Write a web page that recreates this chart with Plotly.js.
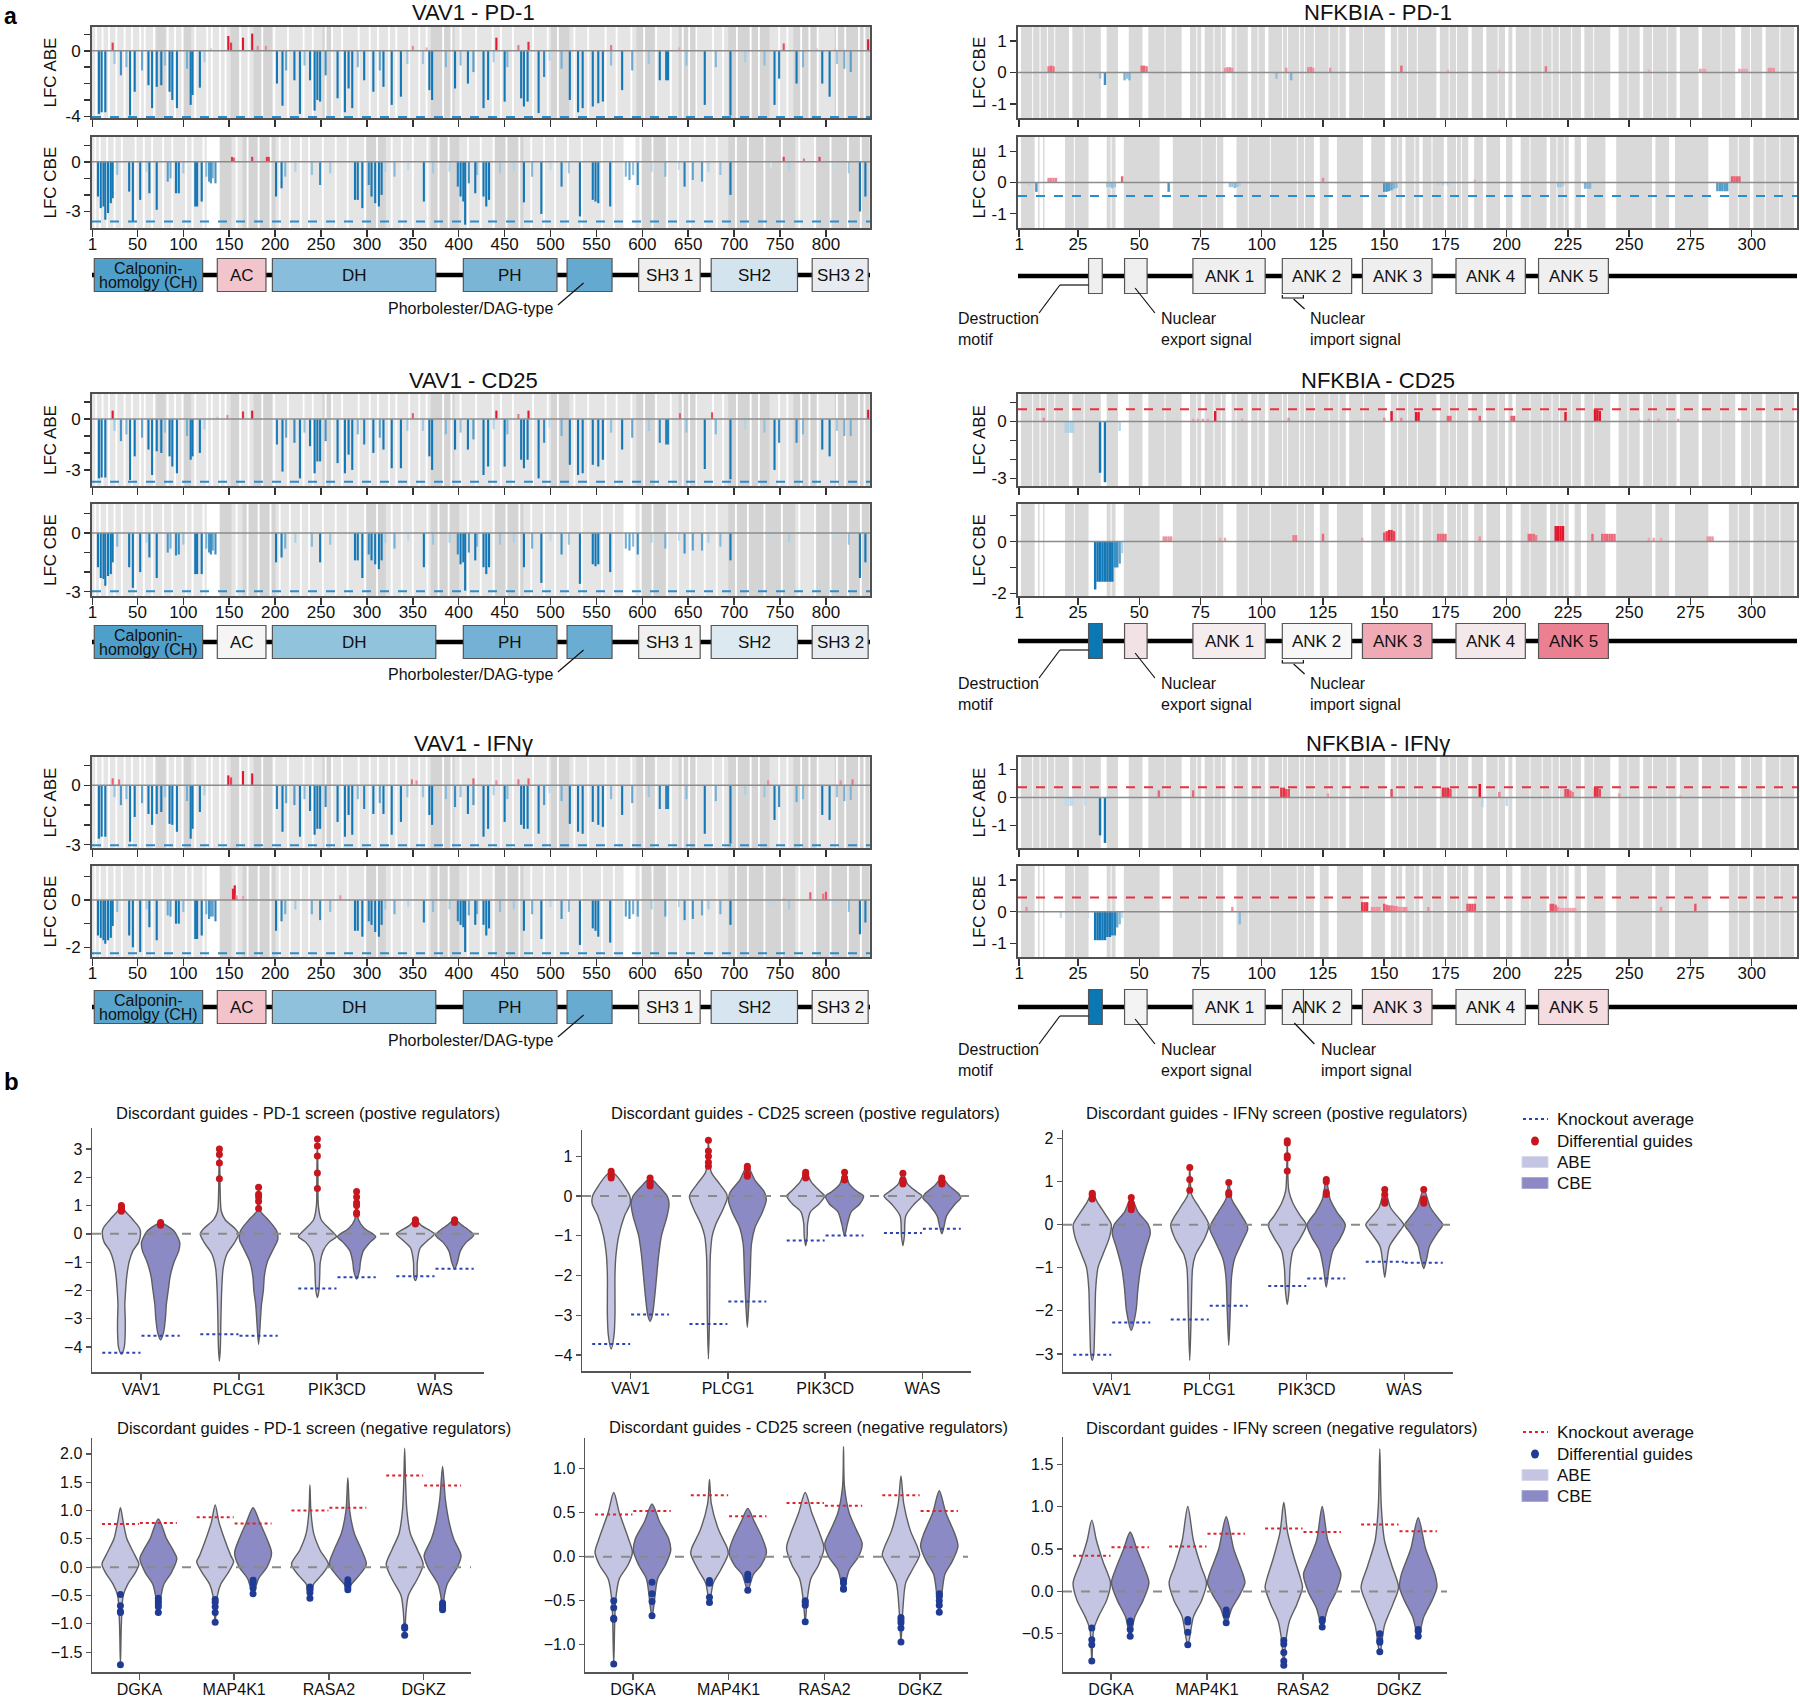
<!DOCTYPE html>
<html>
<head>
<meta charset="utf-8">
<script src="https://cdn.plot.ly/plotly-3.0.1.min.js"></script>
<style>
html,body{margin:0;padding:0;background:#fff;}
#chart{width:1800px;height:1701px;}
</style>
</head>
<body>
<div id="chart"></div>
<script>
// ======================= DATA =======================
// ---- Panel a : x ticks ----
const vav1Ticks = [1,50,100,150,200,250,300,350,400,450,500,550,600,650,700,750,800];
const nfTicks = [1,25,50,75,100,125,150,175,200,225,250,275,300];

// ---- VAV1 ABE guides (positions, aa) and LFC per screen ----
const vav1AbePos = [8,11,15,32,42,47,62,66,71,76,85,88,93,108,110,118,202,208,221,227,238,243,246,249,268,276,280,284,297,307,318,327,337,368,371,396,410,427,432,450,468,471,475,487,493,521,530,535,546,552,557,578,619,628,668,696,744,768,796,804,827];
const vav1AbePd1 = [-3.85,-3.75,-3.75,-1.5,-3.95,-2.5,-2.1,-3.5,-2.2,-2.1,-2.5,-3.0,-3.5,-3.3,-2.7,-2.25,-2.0,-3.35,-1.8,-3.85,-1.8,-3.65,-3.0,-3.1,-2.9,-3.75,-2.3,-3.5,-1.8,-2.5,-2.2,-3.3,-2.8,-2.4,-3.0,-2.3,-2.0,-3.5,-3.0,-3.1,-2.9,-3.4,-3.1,-3.8,-1.6,-3.0,-3.75,-3.5,-3.4,-3.2,-3.1,-2.4,-1.8,-1.8,-3.3,-3.95,-3.3,-2.0,-2.0,-2.8,-1.3];
const vav1AbeCd25 = [-3.5,-3.45,-3.45,-1.3,-3.6,-2.2,-1.8,-3.3,-1.9,-2.0,-2.2,-2.8,-3.2,-2.4,-2.2,-2.0,-1.5,-3.1,-1.4,-3.5,-1.6,-3.2,-2.5,-2.5,-2.6,-3.2,-2.1,-3.0,-1.5,-2.0,-1.8,-2.9,-2.9,-2.2,-3.0,-1.8,-1.8,-3.3,-2.8,-2.8,-2.4,-2.9,-2.4,-3.5,-1.4,-2.7,-3.3,-3.2,-2.7,-2.8,-2.4,-1.8,-1.4,-1.5,-2.95,-3.55,-3.0,-1.4,-1.8,-2.2,-1.0];
const vav1AbeIfng = [-2.7,-2.6,-2.6,-1.0,-2.85,-1.6,-1.45,-2.0,-1.45,-1.35,-1.95,-2.0,-2.35,-2.7,-2.2,-1.35,-1.2,-2.35,-1.0,-2.6,-1.3,-2.5,-2.2,-2.2,-1.85,-2.6,-1.5,-2.5,-1.2,-1.45,-1.45,-2.5,-1.85,-1.5,-2.0,-1.1,-1.45,-2.6,-2.2,-1.85,-2.0,-2.2,-2.2,-2.45,-1.0,-1.95,-2.35,-2.45,-1.85,-2.0,-2.1,-1.5,-1.2,-1.2,-2.45,-2.95,-1.75,-0.85,-1.5,-1.75,-0.75];
// weaker ABE guides
const vav1AbeMinorPos = [25,38,55,80,104,123,212,232,255,290,314,344,361,386,402,416,438,453,499,512,566,589,607,626,648,680,712,733,749,775,812,820];
const vav1AbeMinorPd1 = [-0.8,-1.0,-1.2,-0.9,-1.1,-0.7,-1.2,-0.9,-1.5,-1.0,-1.2,-0.8,-0.8,-1.0,-0.9,-1.3,-0.7,-1.0,-0.6,-1.1,-0.9,-1.2,-0.8,-1.8,-0.9,-1.0,-0.7,-0.9,-1.7,-1.0,-0.8,-1.1];
const vav1AbeMinorCd25 = [-0.7,-0.9,-1.1,-0.8,-1.0,-0.6,-1.1,-0.8,-1.3,-0.9,-1.1,-0.7,-0.7,-0.9,-0.8,-1.2,-0.6,-0.9,-0.5,-1.0,-0.8,-1.1,-0.7,-1.5,-0.8,-0.9,-0.6,-0.8,-1.4,-0.9,-0.7,-1.0];
const vav1AbeMinorIfng = [-0.6,-0.7,-0.9,-0.6,-0.8,-0.5,-0.9,-0.7,-1.1,-0.7,-0.9,-0.6,-0.6,-0.7,-0.6,-1.0,-0.5,-0.7,-0.4,-0.8,-0.7,-0.9,-0.6,-1.2,-0.7,-0.8,-0.5,-0.6,-1.1,-0.7,-0.6,-0.8];
// positive ABE guides
const vav1AbeRedPosPd1 = [23,130,149,152,165,175,181,190,350,365,441,465,476,566,640,754,790,810,846];
const vav1AbeRedPd1 = [0.5,0.15,0.9,0.5,0.8,1.05,0.3,0.3,0.3,0.2,0.8,0.35,0.55,0.35,0.2,0.45,0.15,0.15,0.7];
const vav1AbeRedPosCd25 = [23,137,148,165,175,350,441,465,476,641,676,846];
const vav1AbeRedCd25 = [0.5,0.15,0.25,0.45,0.5,0.35,0.5,0.3,0.5,0.35,0.4,0.55];
const vav1AbeRedPosIfng = [23,30,149,152,165,175,349,354,416,441,465,476,737,816,829];
const vav1AbeRedIfng = [0.35,0.3,0.5,0.4,0.72,0.6,0.3,0.25,0.35,0.25,0.3,0.35,0.25,0.25,0.3];

// ---- VAV1 CBE guides ----
const vav1CbePos = [7,10,13,15,18,21,23,41,45,53,63,71,83,92,95,113,115,120,130,201,207,249,287,290,295,302,305,309,313,316,362,399,402,405,407,411,418,427,430,433,471,490,512,532,546,549,552,565,595,646,665,696,837,843];
const vav1CbePd1 = [-2.1,-2.8,-2.7,-3.5,-3.1,-2.5,-2.2,-1.8,-3.6,-2.3,-1.9,-2.9,-1.2,-1.9,-1.9,-2.7,-2.7,-2.4,-1.3,-2.1,-1.6,-1.4,-2.3,-2.3,-2.8,-1.4,-2.1,-2.5,-2.7,-2.0,-2.4,-1.5,-2.1,-2.4,-3.8,-1.3,-1.9,-2.1,-2.7,-2.3,-2.45,-3.15,-1.5,-3.3,-2.3,-2.4,-2.5,-2.7,-1.4,-1.5,-1.2,-2.0,-3.0,-2.1];
const vav1CbeCd25 = [-1.75,-2.3,-2.35,-2.7,-2.2,-2.1,-1.5,-1.75,-2.8,-2.0,-1.25,-2.3,-1.0,-1.15,-1.1,-2.1,-2.1,-2.1,-1.1,-1.5,-1.25,-1.5,-1.4,-1.4,-2.3,-1.1,-1.4,-1.6,-1.85,-1.4,-1.75,-1.1,-1.6,-1.5,-2.95,-1.0,-1.4,-1.75,-2.1,-1.75,-1.75,-2.55,-1.1,-2.6,-1.6,-1.7,-1.6,-2.0,-1.1,-1.05,-0.9,-1.4,-2.3,-1.5];
const vav1CbeIfng = [-1.5,-1.6,-1.7,-1.85,-1.7,-1.6,-1.1,-1.5,-2.0,-2.2,-1.15,-1.7,-0.65,-1.0,-1.0,-1.65,-1.65,-1.5,-0.7,-1.3,-0.9,-0.85,-1.3,-1.3,-1.55,-0.9,-1.05,-1.35,-1.55,-1.05,-0.95,-0.9,-1.05,-1.15,-2.2,-0.65,-1.05,-1.05,-1.5,-1.2,-1.3,-1.65,-0.8,-1.9,-1.2,-1.3,-1.55,-1.8,-0.7,-0.85,-0.65,-1.05,-1.45,-0.95];
// weaker CBE guides
const vav1CbeMinorPos = [28,60,86,100,125,128,132,135,211,222,240,260,320,330,345,372,390,420,445,460,480,500,520,582,586,590,610,625,640,655,672,685,740,760,810,825];
const vav1CbeMinorPd1 = [-0.8,-0.6,-1.0,-0.7,-0.9,-1.2,-1.0,-1.3,-0.9,-0.6,-0.8,-0.7,-0.6,-0.9,-0.5,-0.7,-0.6,-0.8,-0.7,-0.6,-0.9,-0.5,-0.7,-0.9,-1.1,-0.8,-0.6,-0.9,-0.5,-1.1,-0.6,-0.8,-0.4,-0.6,-0.5,-0.7];
const vav1CbeMinorCd25 = [-0.7,-0.5,-0.8,-0.6,-0.8,-1.0,-0.9,-1.1,-0.8,-0.5,-0.7,-0.6,-0.5,-0.8,-0.4,-0.6,-0.5,-0.7,-0.6,-0.5,-0.8,-0.4,-0.6,-0.8,-0.9,-0.7,-0.5,-0.8,-0.4,-0.9,-0.5,-0.7,-0.4,-0.5,-0.4,-0.6];
const vav1CbeMinorIfng = [-0.5,-0.4,-0.7,-0.5,-0.6,-0.8,-0.7,-0.9,-0.6,-0.4,-0.6,-0.5,-0.4,-0.6,-0.3,-0.5,-0.4,-0.6,-0.5,-0.4,-0.6,-0.3,-0.5,-0.7,-0.8,-0.6,-0.4,-0.7,-0.3,-0.8,-0.4,-0.6,-0.3,-0.4,-0.3,-0.5];
const vav1CbeRedPosPd1 = [153,155,175,191,193,754,776,793];
const vav1CbeRedPd1 = [0.3,0.25,0.3,0.3,0.3,0.3,0.2,0.3];
const vav1CbeRedPosCd25 = [];
const vav1CbeRedCd25 = [];
const vav1CbeRedPosIfng = [154,156,158,165,271,754,783,797,800];
const vav1CbeRedIfng = [0.48,0.62,0.2,0.17,0.2,0.12,0.33,0.27,0.35];

// ---- VAV1 guide coverage (background) ----
const vav1AbeGaps = [5,12,19,27,36,44,53,58,68,83,91,99,113,126,131,140,146,162,171,186,199,214,231,241,255,262,273,291,303,312,324,332,346,357,365,383,392,402,419,437,446,459,481,497,508,526,541,560,572,588,602,615,631,644,651,659,677,688,703,718,727,749,758,773,782,791,812,821,836,842];
const vav1AbeDark = [[71,80],[101,108],[152,160],[177,196],[252,262],[370,395],[501,520],[594,613],[640,660],[694,738],[765,790],[810,847]];
const vav1CbeGaps = [4,9,17,25,33,48,57,66,78,88,103,110,122,158,170,182,195,205,216,228,237,252,266,279,298,311,327,338,350,366,378,389,410,424,438,452,466,479,493,505,519,534,556,569,581,598,611,627,639,652,668,681,702,715,733,752,771,788,805,824,838];
const vav1CbeDark = [[140,152],[165,200],[300,320],[370,400],[440,470],[600,625],[694,766],[790,847]];
const vav1CbeWhite = [[126,139],[580,592]];

// ---- VAV1 thresholds (knockout average, dashed) ----
const vav1AbeThr = [-4.04,-3.7,-3.03];
const vav1CbeThr = [-3.6,-2.98,-2.25];

// ---- NFKBIA guides ----
const nfAbePosPd1 = [13,14,15,34,36,44,45,46,51,52,53,85,86,87,88,106,110,112,119,120,121,128,157,176,197,216,258,279,280,281,295,296,297,298,307,308,309];
const nfAbePd1 = [0.2,0.22,0.2,-0.2,-0.4,-0.25,-0.2,-0.25,0.22,0.22,0.2,0.15,0.17,0.17,0.15,-0.2,0.15,-0.25,0.17,0.18,0.15,0.15,0.22,0.1,0.1,0.2,0.1,0.12,0.12,0.12,0.12,0.12,0.12,0.12,0.15,0.15,0.15];
const nfCbePosPd1 = [5,8,13,14,15,16,37,38,39,40,43,62,87,88,89,90,91,125,150,151,152,153,154,155,172,174,176,187,221,222,223,232,233,234,286,287,288,289,290,292,293,294,295];
const nfCbePd1 = [-0.1,-0.3,0.15,0.15,0.15,0.15,-0.15,-0.15,-0.18,-0.15,0.2,-0.3,-0.15,-0.15,-0.18,-0.15,-0.12,0.15,-0.3,-0.3,-0.28,-0.25,-0.2,-0.18,-0.1,-0.1,-0.1,0.1,-0.15,-0.15,-0.12,-0.2,-0.2,-0.2,-0.28,-0.28,-0.28,-0.28,-0.28,0.2,0.2,0.2,0.2];
const nfAbePosCd25 = [11,20,21,22,23,34,36,42,72,74,76,78,81,92,111,150,153,157,163,164,176,177,189,202,203,224,236,237,238,254,258,262,270];
const nfAbeCd25 = [0.2,-0.6,-0.6,-0.6,-0.6,-2.7,-3.2,-0.5,0.15,0.15,0.15,0.15,0.55,0.15,0.2,0.2,0.55,0.2,0.5,0.5,0.3,0.3,0.3,0.3,0.3,0.5,0.65,0.65,0.55,0.12,0.15,0.15,0.15];
const nfCbePosCd25 = [32,33,34,35,36,37,38,39,40,41,42,43,60,61,62,63,83,85,113,114,125,141,150,151,152,153,154,172,173,174,175,189,209,210,211,212,220,221,222,223,235,239,240,241,242,243,244,258,260,263,282,283,284];
const nfCbeCd25 = [-1.85,-1.55,-1.55,-1.55,-1.55,-1.55,-1.55,-1.55,-1.0,-1.0,-0.85,-0.45,0.2,0.2,0.2,0.2,0.15,0.15,0.25,0.25,0.3,0.15,0.35,0.4,0.45,0.45,0.4,0.3,0.3,0.3,0.3,0.2,0.3,0.3,0.3,0.25,0.6,0.6,0.6,0.6,0.3,0.3,0.3,0.3,0.3,0.3,0.3,0.15,0.15,0.15,0.2,0.2,0.2];
const nfAbePosIfng = [20,21,22,23,28,34,36,58,72,108,109,110,111,127,153,174,175,176,177,189,190,197,200,224,225,226,227,236,237,238,246,271];
const nfAbeIfng = [-0.3,-0.3,-0.3,-0.3,-0.3,-1.35,-1.62,0.25,0.25,0.35,0.35,0.3,0.3,0.15,0.3,0.35,0.35,0.35,0.3,0.48,-0.35,0.2,-0.3,0.3,0.3,0.25,0.2,0.35,0.35,0.3,0.15,0.1];
const nfCbePosIfng = [4,18,29,32,33,34,35,36,37,38,39,40,41,42,43,88,91,141,142,143,145,146,147,148,150,151,152,153,154,155,156,157,158,159,168,184,185,186,187,218,219,220,221,222,223,224,225,226,227,228,263,277];
const nfCbeIfng = [0.15,-0.2,-0.2,-0.9,-0.9,-0.9,-0.9,-0.9,-0.8,-0.8,-0.75,-0.75,-0.5,-0.4,-0.2,0.15,-0.4,0.3,0.3,0.3,0.15,0.15,0.15,0.15,0.25,0.22,0.2,0.2,0.18,0.18,0.15,0.15,0.15,0.15,0.15,0.25,0.25,0.25,0.25,0.25,0.25,0.22,0.15,0.12,0.12,0.12,0.12,0.12,0.12,0.12,0.15,0.25];

// ---- NFKBIA guide coverage (background) ----
const nfAbeCov = [[2,6],[7,9],[10,12],[13,15],[16,21],[23,27],[28,34],[37,41],[46,51],[54,60],[61,67],[71,73],[74,75],[77,80],[81,83],[84,85],[88,89],[90,94],[96,98],[99,101],[103,108],[109,110],[111,115],[116,117],[118,121],[122,127],[128,131],[132,134],[136,141],[142,150],[153,155],[156,159],[160,163],[164,171],[173,176],[177,179],[180,184],[186,190],[192,196],[197,199],[201,202],[204,209],[210,214],[215,218],[219,221],[222,226],[227,230],[232,235],[236,242],[246,249],[250,254],[256,259],[260,265],[266,269],[271,278],[280,287],[288,293],[296,299],[300,304],[306,311],[312,317]];
const nfCbeCov = [[2,7],[9,9],[11,11],[20,23],[24,29],[37,38],[39,40],[44,58],[64,75],[76,81],[82,84],[90,94],[95,103],[104,114],[115,117],[118,121],[124,127],[131,141],[145,150],[153,155],[156,157],[159,162],[163,164],[166,169],[170,174],[176,179],[180,181],[182,184],[187,190],[192,197],[200,202],[206,209],[210,216],[218,220],[221,223],[224,225],[228,230],[233,240],[245,259],[261,266],[269,282],[291,294],[295,299],[301,305],[306,311],[312,317]];
const nfAbeThr = [null,0.65,0.36];
const nfCbeThr = [-0.43,null,0.45];

// ---- Domain annotations ----
const vav1DomStart = [3,137,197,405,518,596,675,785];
const vav1DomEnd = [121,190,375,507,567,663,769,846];
const vav1DomLabel = ['','AC','DH','PH','','SH3 1','SH2','SH3 2'];
const nfDomStart = [29.3,44,71.9,108.4,141.1,179.3,213];
const nfDomEnd = [34.9,53.2,101.4,136.7,169.5,207.6,241.5];
const nfDomLabel = ['','','ANK 1','ANK 2','ANK 3','ANK 4','ANK 5'];
const screens = ['PD-1','CD25','IFNγ'];

// ---- Panel b : violins (y knots ascending, relative half-width) ----
const genesPos = ['VAV1','PLCG1','PIK3CD','WAS'];
const genesNeg = ['DGKA','MAP4K1','RASA2','DGKZ'];
// PD-1 positive regulators
const b1AbeY = [[-4.25,-4.0,-3.5,-3.0,-2.5,-2.0,-1.5,-1.0,-0.6,-0.3,0.0,0.2,0.5,0.8,1.0],[-4.5,-4.0,-3.0,-2.0,-1.2,-0.7,-0.3,0.0,0.2,0.5,0.8,1.5,2.0,3.0],[-2.25,-2.0,-1.5,-1.0,-0.6,-0.3,-0.1,0.0,0.2,0.5,1.0,2.0,3.35],[-1.65,-1.5,-1.0,-0.5,-0.2,0.0,0.1,0.3,0.5]];
const b1AbeW = [[0,0.15,0.2,0.2,0.18,0.22,0.28,0.4,0.6,0.9,1.0,0.95,0.6,0.2,0],[0,0.05,0.08,0.12,0.2,0.4,0.8,1.0,0.8,0.3,0.1,0.04,0.03,0],[0,0.08,0.12,0.15,0.3,0.6,1.0,0.9,0.6,0.2,0.05,0.03,0],[0,0.08,0.1,0.25,0.7,1.0,0.8,0.3,0]];
const b1CbeY = [[-3.75,-3.5,-3.0,-2.5,-2.0,-1.5,-1.0,-0.6,-0.3,0.1,0.3,0.4],[-3.9,-3.0,-2.5,-2.0,-1.5,-1.0,-0.5,-0.2,0.1,0.5,0.8,1.2,1.65],[-1.6,-1.3,-1.0,-0.6,-0.3,-0.1,0.0,0.2,0.5,1.0,1.5],[-1.25,-1.0,-0.6,-0.3,-0.05,0.1,0.3,0.5]];
const b1CbeW = [[0,0.15,0.25,0.3,0.4,0.5,0.7,0.95,1.0,0.7,0.3,0],[0,0.1,0.15,0.25,0.3,0.45,0.8,1.0,0.95,0.5,0.1,0.04,0],[0,0.15,0.2,0.35,0.7,1.0,0.85,0.4,0.1,0.04,0],[0,0.15,0.3,0.6,1.0,0.8,0.4,0]];
const b1AbeDots = [[0.8,0.85,0.9,0.95,1.0],[1.95,2.5,2.8,3.0],[1.6,2.15,2.75,3.1,3.35],[0.35,0.4,0.45,0.5]];
const b1CbeDots = [[0.3,0.35,0.4],[0.9,1.15,1.3,1.4,1.65],[0.7,0.75,1.0,1.1,1.3,1.5],[0.4,0.45,0.5]];
const b1AbeKO = [-4.2,-3.55,-1.93,-1.5];
const b1CbeKO = [-3.6,-3.6,-1.53,-1.23];
// CD25 positive regulators
const b2AbeY = [[-3.85,-3.5,-3.0,-2.5,-2.0,-1.5,-1.0,-0.5,-0.2,0.0,0.2,0.5,0.62],[-4.1,-3.0,-2.0,-1.5,-1.0,-0.7,-0.3,0.0,0.3,0.6,1.0,1.4],[-1.25,-1.0,-0.7,-0.4,-0.2,0.0,0.1,0.35,0.6],[-1.25,-1.0,-0.5,-0.2,0.0,0.1,0.3,0.57]];
const b2AbeW = [[0,0.15,0.2,0.2,0.2,0.25,0.4,0.7,1.0,0.98,0.75,0.3,0],[0,0.06,0.08,0.1,0.2,0.4,0.8,1.0,0.6,0.15,0.04,0],[0,0.08,0.1,0.25,0.7,1.0,0.8,0.3,0],[0,0.08,0.15,0.6,1.0,0.75,0.25,0]];
const b2CbeY = [[-3.15,-3.0,-2.5,-2.0,-1.5,-1.0,-0.5,-0.2,0.0,0.3,0.45],[-3.3,-2.7,-2.0,-1.2,-0.8,-0.4,-0.1,0.1,0.4,0.75],[-1.0,-0.7,-0.4,-0.2,0.0,0.1,0.3,0.62],[-0.95,-0.8,-0.5,-0.2,-0.05,0.05,0.25,0.45]];
const b2CbeW = [[0,0.12,0.25,0.35,0.45,0.6,0.9,1.0,0.9,0.35,0],[0,0.08,0.15,0.22,0.4,0.8,1.0,0.9,0.4,0],[0,0.15,0.35,0.8,1.0,0.7,0.25,0],[0,0.1,0.25,0.7,1.0,0.9,0.4,0]];
const b2AbeDots = [[0.45,0.5,0.55,0.62],[0.75,0.85,1.0,1.13,1.4],[0.45,0.5,0.55,0.6],[0.3,0.35,0.4,0.57]];
const b2CbeDots = [[0.25,0.3,0.35,0.45],[0.5,0.55,0.7,0.75],[0.4,0.45,0.6],[0.3,0.35,0.4,0.45]];
const b2AbeKO = [-3.72,-3.22,-1.12,-0.93];
const b2CbeKO = [-2.98,-2.65,-0.99,-0.82];
// IFNγ positive regulators
const b3AbeY = [[-3.15,-3.0,-2.5,-2.0,-1.5,-1.0,-0.7,-0.3,0.0,0.2,0.5,0.73],[-3.15,-2.0,-1.0,-0.7,-0.3,0.0,0.4,0.7,1.33],[-1.85,-1.5,-1.0,-0.6,-0.3,0.0,0.2,0.5,0.8,1.95],[-1.22,-0.9,-0.5,-0.2,0.0,0.1,0.4,0.82]];
const b3AbeW = [[0,0.08,0.12,0.15,0.18,0.3,0.55,0.9,1.0,0.75,0.3,0],[0,0.08,0.15,0.3,0.8,1.0,0.5,0.1,0],[0,0.1,0.15,0.3,0.7,1.0,0.7,0.3,0.08,0],[0,0.1,0.25,0.7,1.0,0.85,0.3,0]];
const b3CbeY = [[-2.45,-2.0,-1.5,-1.0,-0.5,-0.2,0.0,0.3,0.63],[-2.8,-2.0,-1.2,-0.8,-0.4,-0.1,0.0,0.3,0.6,0.98],[-1.45,-1.0,-0.6,-0.3,0.0,0.3,0.6,1.05],[-1.02,-0.8,-0.5,-0.2,0.0,0.1,0.4,0.82]];
const b3CbeW = [[0,0.25,0.35,0.5,0.8,1.0,0.9,0.35,0],[0,0.08,0.15,0.3,0.7,1.0,0.95,0.55,0.15,0],[0,0.15,0.35,0.75,1.0,0.55,0.2,0],[0,0.15,0.3,0.7,1.0,0.85,0.35,0]];
const b3AbeDots = [[0.6,0.65,0.7,0.73],[0.8,1.05,1.33],[1.25,1.55,1.6,1.9,1.95],[0.5,0.55,0.7,0.82]];
const b3CbeDots = [[0.35,0.4,0.45,0.5,0.63],[0.7,0.75,0.98],[0.7,0.75,1.0,1.05],[0.5,0.55,0.6,0.82]];
const b3AbeKO = [-3.02,-2.2,-1.42,-0.86];
const b3CbeKO = [-2.27,-1.88,-1.25,-0.88];
// PD-1 negative regulators
const b4AbeY = [[-1.72,-1.0,-0.5,-0.3,-0.1,0.05,0.2,0.5,0.8,1.05],[-0.97,-0.5,-0.3,-0.1,0.1,0.2,0.5,0.8,1.1],[-0.55,-0.3,-0.15,0.05,0.3,0.6,1.0,1.45],[-1.2,-0.8,-0.5,-0.2,0.05,0.3,0.6,1.0,1.5,2.1]];
const b4AbeW = [[0,0.05,0.15,0.4,0.8,1.0,0.8,0.35,0.15,0],[0,0.12,0.3,0.7,1.0,0.85,0.5,0.2,0],[0,0.2,0.6,1.0,0.55,0.2,0.05,0],[0,0.07,0.2,0.7,1.0,0.7,0.3,0.12,0.05,0]];
const b4CbeY = [[-0.8,-0.5,-0.3,-0.1,0.15,0.3,0.5,0.85],[-0.47,-0.2,0.0,0.25,0.5,0.8,1.05],[-0.4,-0.3,-0.15,0.05,0.3,0.6,1.0,1.58],[-0.77,-0.5,-0.3,0.0,0.2,0.5,0.8,1.2,1.78]];
const b4CbeW = [[0,0.15,0.3,0.7,1.0,0.8,0.45,0],[0,0.3,0.75,1.0,0.75,0.35,0],[0,0.2,0.6,1.0,0.75,0.35,0.1,0],[0,0.1,0.25,0.8,1.0,0.6,0.35,0.15,0]];
const b4AbeDots = [[-0.48,-0.68,-0.78,-0.8,-1.72],[-0.57,-0.62,-0.7,-0.8,-0.97],[-0.35,-0.38,-0.4,-0.45,-0.55],[-1.05,-1.08,-1.2]];
const b4CbeDots = [[-0.55,-0.6,-0.65,-0.7,-0.8],[-0.23,-0.28,-0.37,-0.47],[-0.22,-0.27,-0.3,-0.35,-0.4],[-0.63,-0.67,-0.72,-0.75]];
const b4AbeKO = [0.76,0.88,1.0,1.62];
const b4CbeKO = [0.78,0.77,1.05,1.44];
// CD25 negative regulators
const b5AbeY = [[-1.22,-0.5,-0.25,-0.1,0.05,0.2,0.5,0.73],[-0.52,-0.3,-0.15,0.03,0.1,0.3,0.6,0.88],[-0.74,-0.5,-0.25,-0.1,0.1,0.25,0.5,0.73],[-0.97,-0.6,-0.3,-0.15,0.02,0.1,0.3,0.6,0.92]];
const b5AbeW = [[0,0.1,0.3,0.75,1.0,0.8,0.3,0],[0,0.2,0.6,1.0,0.95,0.5,0.1,0],[0,0.1,0.3,0.7,1.0,0.8,0.35,0],[0,0.1,0.25,0.6,1.0,0.9,0.5,0.15,0]];
const b5CbeY = [[-0.68,-0.25,-0.1,0.07,0.2,0.4,0.6],[-0.38,-0.2,-0.1,0.05,0.2,0.4,0.55],[-0.37,-0.15,0.0,0.15,0.3,0.5,0.8,1.25],[-0.63,-0.5,-0.2,-0.05,0.12,0.25,0.5,0.75]];
const b5CbeW = [[0,0.3,0.7,1.0,0.9,0.4,0],[0,0.3,0.7,1.0,0.8,0.35,0],[0,0.3,0.8,1.0,0.7,0.3,0.05,0],[0,0.1,0.3,0.7,1.0,0.85,0.35,0]];
const b5AbeDots = [[-0.5,-0.58,-0.7,-0.71,-1.22],[-0.27,-0.3,-0.46,-0.52],[-0.5,-0.52,-0.55,-0.74],[-0.69,-0.72,-0.75,-0.81,-0.97]];
const b5CbeDots = [[-0.29,-0.42,-0.51,-0.67],[-0.2,-0.23,-0.26,-0.38],[-0.27,-0.3,-0.36,-0.37],[-0.42,-0.45,-0.5,-0.55,-0.63]];
const b5AbeKO = [0.48,0.7,0.61,0.7];
const b5CbeKO = [0.52,0.46,0.58,0.52];
// IFNγ negative regulators
const b6AbeY = [[-0.82,-0.45,-0.3,-0.1,0.1,0.35,0.6,0.84],[-0.63,-0.3,-0.1,0.1,0.3,0.6,1.0],[-0.87,-0.6,-0.35,-0.15,0.05,0.15,0.4,0.7,1.05],[-0.73,-0.4,-0.15,0.05,0.3,0.6,1.0,1.68]];
const b6AbeW = [[0,0.1,0.35,0.8,1.0,0.6,0.25,0],[0,0.3,0.75,1.0,0.7,0.3,0],[0,0.1,0.3,0.7,1.0,0.9,0.55,0.2,0],[0,0.25,0.7,1.0,0.65,0.25,0.08,0]];
const b6CbeY = [[-0.53,-0.3,-0.1,0.1,0.25,0.5,0.7],[-0.37,-0.2,-0.05,0.1,0.2,0.5,0.88],[-0.42,-0.2,0.0,0.2,0.35,0.6,1.0],[-0.53,-0.3,-0.1,0.05,0.2,0.5,0.87]];
const b6CbeW = [[0,0.25,0.7,1.0,0.8,0.35,0],[0,0.3,0.7,1.0,0.9,0.4,0],[0,0.3,0.75,1.0,0.75,0.3,0],[0,0.3,0.75,1.0,0.9,0.4,0]];
const b6AbeDots = [[-0.43,-0.57,-0.63,-0.82],[-0.33,-0.36,-0.48,-0.63],[-0.58,-0.62,-0.72,-0.82,-0.87],[-0.5,-0.58,-0.6,-0.71]];
const b6CbeDots = [[-0.35,-0.37,-0.45,-0.53],[-0.22,-0.25,-0.28,-0.37],[-0.33,-0.35,-0.42],[-0.45,-0.47,-0.53]];
const b6AbeKO = [0.42,0.53,0.74,0.79];
const b6CbeKO = [0.52,0.68,0.7,0.71];

// ======================= STYLE / BUILD =======================
const W = 1800, H = 1701;
const px = v => v / W;
const py = v => 1 - v / H;
const FONT = '"Liberation Sans", Arial, Helvetica, sans-serif';
const traces = [], shapes = [], annotations = [];
const layout = {
  width: W, height: H, margin: {l:0, r:0, t:0, b:0, pad:0},
  paper_bgcolor: '#ffffff', plot_bgcolor: 'rgba(0,0,0,0)',
  showlegend: false, barmode: 'overlay', hovermode: false,
  font: {family: FONT, size: 16, color: '#1a1a1a'},
  shapes: shapes, annotations: annotations
};

function hex2rgb(h){return [parseInt(h.slice(1,3),16),parseInt(h.slice(3,5),16),parseInt(h.slice(5,7),16)];}
function mix(a,b,t){const A=hex2rgb(a),B=hex2rgb(b);return 'rgb('+A.map((v,i)=>Math.round(v+(B[i]-v)*t)).join(',')+')';}
const BLUE_L='#d2e6f2', BLUE_D='#1477b6', RED_L='#f7d0d6', RED_D='#e4162e';
function colorFor(v, cs){
  if (v < 0){const t=Math.max(0,Math.min(1,(-v-cs[0])/(cs[1]-cs[0])));return mix(BLUE_L,BLUE_D,t);}
  const t=Math.max(0,Math.min(1,(v-cs[2])/(cs[3]-cs[2])));return mix(RED_L,RED_D,t);
}
const LIGHT_GRAY='#e5e5e5', DARK_GRAY='#d4d4d4', NF_GRAY='#d9d9d9';
const BLUE_DASH='#2a8dcc', RED_DASH='#e8303f';

function addCov(n, intervals, color, yr, pad){
  if(!intervals.length) return;
  traces.push({type:'bar', xaxis:'x'+n, yaxis:'y'+n,
    x: intervals.map(d=>(d[0]+d[1])/2), y: intervals.map(()=>yr[1]-yr[0]), base: yr[0],
    width: intervals.map(d=>d[1]-d[0]+2*pad), marker:{color:color, line:{width:0}},
    hoverinfo:'skip', showlegend:false});
}
function addGaps(n, positions, w, yr){
  traces.push({type:'bar', xaxis:'x'+n, yaxis:'y'+n,
    x: positions, y: positions.map(()=>yr[1]-yr[0]), base: yr[0], width: w,
    marker:{color:'#ffffff', line:{width:0}}, hoverinfo:'skip', showlegend:false});
}
function addBars(n, pos, vals, cs, w){
  if(!pos.length) return;
  traces.push({type:'bar', xaxis:'x'+n, yaxis:'y'+n, x:pos, y:vals, width:w,
    marker:{color: vals.map(v=>colorFor(v,cs)), line:{width:0}}, hoverinfo:'skip', showlegend:false});
}

// ---- Panel a geometry ----
const VX=[92,870], NX=[1018,1797];
const rowsY=[[27,118,137,228],[394,486,504,596],[757,848,866,957]];
const vav1AbeYr=[[-4.1,1.45],[-3.95,1.48],[-3.17,1.43]];
const vav1CbeYr=[[-4.0,1.5],[-3.22,1.48],[-2.41,1.44]];
const nfAbeYr=[[-1.45,1.45],[-3.4,1.45],[-1.8,1.44]];
const nfCbeYr=[[-1.46,1.46],[-2.1,1.45],[-1.43,1.44]];
const vav1AbeYt=[[1,0,-1,-2,-3,-4],[1,0,-1,-2,-3],[1,0,-1,-2,-3]];
const vav1AbeYl=[['','0','','','','-4'],['','0','','','-3'],['','0','','','-3']];
const vav1CbeYt=[[1,0,-1,-2,-3],[1,0,-1,-2,-3],[1,0,-1,-2]];
const vav1CbeYl=[['','0','','','-3'],['','0','','','-3'],['','0','','-2']];
const nfAbeYt=[[1,0,-1],[1,0,-1,-2,-3],[1,0,-1]];
const nfAbeYl=[['1','0','-1'],['','0','','','-3'],['1','0','-1']];
const nfCbeYt=[[1,0,-1],[1,0,-1,-2],[1,0,-1]];
const nfCbeYl=[['1','0','-1'],['','0','','-2'],['1','0','-1']];
const nfAbeLabels=['LFC CBE','LFC ABE','LFC ABE'];
const vav1AbeCs=[[0.4,1.8,0.1,0.6],[0.4,1.6,0.1,0.5],[0.3,1.3,0.1,0.5]];
const vav1CbeCs=[[0.4,1.6,0.05,0.35],[0.3,1.3,0.05,0.35],[0.2,1.0,0.05,0.5]];
const nfAbeCs=[[0.05,0.5,0.05,0.35],[0.3,2.0,0.05,0.45],[0.2,1.2,0.05,0.4]];
const nfCbeCs=[[0.05,0.4,0.05,0.3],[0.3,1.2,0.05,0.5],[0.15,0.8,0.05,0.35]];

const vav1AbeVals=[vav1AbePd1,vav1AbeCd25,vav1AbeIfng];
const vav1AbeMinorVals=[vav1AbeMinorPd1,vav1AbeMinorCd25,vav1AbeMinorIfng];
const vav1AbeRedPos=[vav1AbeRedPosPd1,vav1AbeRedPosCd25,vav1AbeRedPosIfng];
const vav1AbeRedVals=[vav1AbeRedPd1,vav1AbeRedCd25,vav1AbeRedIfng];
const vav1CbeVals=[vav1CbePd1,vav1CbeCd25,vav1CbeIfng];
const vav1CbeMinorVals=[vav1CbeMinorPd1,vav1CbeMinorCd25,vav1CbeMinorIfng];
const vav1CbeRedPos=[vav1CbeRedPosPd1,vav1CbeRedPosCd25,vav1CbeRedPosIfng];
const vav1CbeRedVals=[vav1CbeRedPd1,vav1CbeRedCd25,vav1CbeRedIfng];
const nfAbePos=[nfAbePosPd1,nfAbePosCd25,nfAbePosIfng];
const nfAbeVals=[nfAbePd1,nfAbeCd25,nfAbeIfng];
const nfCbePos=[nfCbePosPd1,nfCbePosCd25,nfCbePosIfng];
const nfCbeVals=[nfCbePd1,nfCbeCd25,nfCbeIfng];

function setupAxes(n, xd, yd, xr, xt, showX, yr, yt, yl){
  layout['xaxis'+n]={domain:[px(xd[0]),px(xd[1])], anchor:'y'+n, range:xr, tickmode:'array', tickvals:xt, ticktext:xt.map(String),
    showticklabels:showX, ticks:'outside', ticklen:7, tickwidth:1.5, tickcolor:'#333', ticklabelstandoff:-7,
    showline:true, mirror:true, linecolor:'#505050', linewidth:2, showgrid:false, zeroline:false,
    tickfont:{size:17, color:'#111'}, fixedrange:true};
  layout['yaxis'+n]={domain:[py(yd[1]),py(yd[0])], anchor:'x'+n, range:yr, tickmode:'array', tickvals:yt, ticktext:yl,
    ticks:'outside', ticklen:6, tickwidth:1.5, tickcolor:'#333',
    showline:true, mirror:true, linecolor:'#505050', linewidth:2, showgrid:false, zeroline:false,
    tickfont:{size:17, color:'#111'}, fixedrange:true};
}
function hLine(n, y, color, dash, width){
  shapes.push({type:'line', xref:'x'+n+' domain', yref:'y'+n, x0:0, x1:1, y0:y, y1:y,
    line:{color:color, width:width, dash:dash}, layer:'above'});
}
function yTitle(text, xPix, yd){
  annotations.push({xref:'paper', yref:'paper', x:px(xPix), y:py((yd[0]+yd[1])/2), text:text,
    textangle:-90, showarrow:false, xanchor:'center', yanchor:'middle', font:{size:17, color:'#111'}});
}

for(let r=0;r<3;r++){
  const ry=rowsY[r];
  // ---- VAV1 ABE ----
  let n=2*r+1, yr=vav1AbeYr[r];
  setupAxes(n, VX, [ry[0],ry[1]], [0.5,848], vav1Ticks, false, yr, vav1AbeYt[r], vav1AbeYl[r]);
  addCov(n, [[1,847]], LIGHT_GRAY, yr, 0.5);
  addCov(n, vav1AbeDark, DARK_GRAY, yr, 0.5);
  addGaps(n, vav1AbeGaps, 2, yr);
  addBars(n, vav1AbeMinorPos, vav1AbeMinorVals[r], vav1AbeCs[r], 2.3);
  addBars(n, vav1AbePos, vav1AbeVals[r], vav1AbeCs[r], 2.3);
  addBars(n, vav1AbeRedPos[r], vav1AbeRedVals[r], vav1AbeCs[r], 2.3);
  hLine(n, 0, '#8c8c8c', 'solid', 1.5);
  hLine(n, vav1AbeThr[r], BLUE_DASH, 'dash', 2);
  yTitle('LFC ABE', 50, [ry[0],ry[1]]);
  // ---- VAV1 CBE ----
  n=2*r+2; yr=vav1CbeYr[r];
  setupAxes(n, VX, [ry[2],ry[3]], [0.5,848], vav1Ticks, true, yr, vav1CbeYt[r], vav1CbeYl[r]);
  addCov(n, [[1,847]], LIGHT_GRAY, yr, 0.5);
  addCov(n, vav1CbeDark, DARK_GRAY, yr, 0.5);
  addCov(n, vav1CbeWhite, '#ffffff', yr, 0.5);
  addGaps(n, vav1CbeGaps, 2, yr);
  addBars(n, vav1CbeMinorPos, vav1CbeMinorVals[r], vav1CbeCs[r], 2.3);
  addBars(n, vav1CbePos, vav1CbeVals[r], vav1CbeCs[r], 2.3);
  addBars(n, vav1CbeRedPos[r], vav1CbeRedVals[r], vav1CbeCs[r], 2.3);
  hLine(n, 0, '#8c8c8c', 'solid', 1.5);
  hLine(n, vav1CbeThr[r], BLUE_DASH, 'dash', 2);
  yTitle('LFC CBE', 50, [ry[2],ry[3]]);
  // ---- NFKBIA ABE ----
  n=7+2*r; yr=nfAbeYr[r];
  setupAxes(n, NX, [ry[0],ry[1]], [0.5,318.5], nfTicks, false, yr, nfAbeYt[r], nfAbeYl[r]);
  addCov(n, nfAbeCov, NF_GRAY, yr, 0.3);
  addBars(n, nfAbePos[r], nfAbeVals[r], nfAbeCs[r], 1.0);
  hLine(n, 0, '#8c8c8c', 'solid', 1.5);
  if(nfAbeThr[r]!==null) hLine(n, nfAbeThr[r], nfAbeThr[r]>0?RED_DASH:BLUE_DASH, 'dash', 2);
  yTitle(nfAbeLabels[r], 979, [ry[0],ry[1]]);
  // ---- NFKBIA CBE ----
  n=8+2*r; yr=nfCbeYr[r];
  setupAxes(n, NX, [ry[2],ry[3]], [0.5,318.5], nfTicks, true, yr, nfCbeYt[r], nfCbeYl[r]);
  addCov(n, nfCbeCov, NF_GRAY, yr, 0.3);
  addBars(n, nfCbePos[r], nfCbeVals[r], nfCbeCs[r], 1.0);
  hLine(n, 0, '#8c8c8c', 'solid', 1.5);
  if(nfCbeThr[r]!==null) hLine(n, nfCbeThr[r], nfCbeThr[r]>0?RED_DASH:BLUE_DASH, 'dash', 2);
  yTitle('LFC CBE', 979, [ry[2],ry[3]]);
}

// ---- Titles for panel a ----
const aTitleY=[12,380,743];
for(let r=0;r<3;r++){
  annotations.push({xref:'paper',yref:'paper',x:px(474),y:py(aTitleY[r]),text:'VAV1 - '+screens[r],showarrow:false,xanchor:'center',yanchor:'middle',font:{size:22,color:'#111'}});
  annotations.push({xref:'paper',yref:'paper',x:px(1378),y:py(aTitleY[r]),text:'NFKBIA - '+screens[r],showarrow:false,xanchor:'center',yanchor:'middle',font:{size:22,color:'#111'}});
}

// ---- Domain diagrams ----
const vav1DomFill=[
  ['#4f9fcb','#f2c5cd','#88bedb','#7ab5d6','#64a9d0','#efefef','#d3e4ef','#e8ecf0'],
  ['#4f9fcb','#f5f5f5','#92c3dd','#74b1d4','#6aadd2','#f0f0f0','#dde9f1','#e6ebef'],
  ['#58a4cd','#f3c3cb','#8fc1dc','#7ab5d6','#68abd1','#f2f2f2','#d6e5ef','#f2f2f2']];
const nfDomFill=[
  ['#efefef','#efefef','#efefef','#efefef','#efefef','#efefef','#efefef'],
  ['#0b77b5','#f2e2e5','#f5ecee','#f7f7f7','#efaab5','#f3e8ea','#ec8093'],
  ['#0b77b5','#f3f3f3','#f3f3f3','#f1f1f1','#f2e4e7','#f3f3f3','#f4dce0']];
const vav1LineY=[275,642,1007], nfLineY=[276,641,1007];
function drawDomains(axN, lineY, half, starts, ends, labels, fills, lx0, lx1, fsize){
  shapes.push({type:'line', xref:'x'+axN, yref:'paper', x0:lx0, x1:lx1, y0:py(lineY), y1:py(lineY), line:{color:'#000',width:4.5}, layer:'above'});
  for(let i=0;i<starts.length;i++){
    shapes.push({type:'rect', xref:'x'+axN, yref:'paper', x0:starts[i], x1:ends[i], y0:py(lineY+half), y1:py(lineY-half),
      fillcolor:fills[i], line:{color:'#555',width:1.2}, layer:'above'});
    if(labels[i]) annotations.push({xref:'x'+axN, yref:'paper', x:(starts[i]+ends[i])/2, y:py(lineY), text:labels[i],
      showarrow:false, xanchor:'center', yanchor:'middle', font:{size:fsize,color:'#111'}});
  }
}
for(let r=0;r<3;r++){
  const ax=2*r+2;
  const L=vav1LineY[r];
  drawDomains(ax, L, 16.5, vav1DomStart, vav1DomEnd, vav1DomLabel, vav1DomFill[r], -5, 852, 17);
  const chMid=(vav1DomStart[0]+vav1DomEnd[0])/2;
  annotations.push({xref:'x'+ax, yref:'paper', x:chMid, y:py(L-7), text:'Calponin-', showarrow:false, xanchor:'center', yanchor:'middle', font:{size:16,color:'#111'}});
  annotations.push({xref:'x'+ax, yref:'paper', x:chMid, y:py(L+8), text:'homolgy (CH)', showarrow:false, xanchor:'center', yanchor:'middle', font:{size:16,color:'#111'}});
  shapes.push({type:'line', xref:'x'+ax, yref:'paper', x0:536, x1:508, y0:py(L+8), y1:py(L+30), line:{color:'#111',width:1.2}, layer:'above'});
  annotations.push({xref:'paper', yref:'paper', x:px(556), y:py(L+33), text:'Phorbolester/DAG-type', showarrow:false, xanchor:'right', yanchor:'middle', font:{size:16,color:'#111'}});

  const axN=8+2*r, N=nfLineY[r];
  drawDomains(axN, N, 17.5, nfDomStart, nfDomEnd, nfDomLabel, nfDomFill[r], -5, 330, 17);
  shapes.push({type:'line', xref:'x'+axN, yref:'paper', x0:17.6, x1:29.3, y0:py(N+9), y1:py(N+9), line:{color:'#111',width:1.2}, layer:'above'});
  shapes.push({type:'line', xref:'x'+axN, yref:'paper', x0:17.6, x1:9.1, y0:py(N+9), y1:py(N+37), line:{color:'#111',width:1.2}, layer:'above'});
  shapes.push({type:'line', xref:'x'+axN, yref:'paper', x0:48.3, x1:56.4, y0:py(N+12), y1:py(N+37), line:{color:'#111',width:1.2}, layer:'above'});
  if(r<2){
    shapes.push({type:'path', xref:'x'+axN, yref:'paper',
      path:'M 108.4,'+py(N+19)+' L 108.4,'+py(N+22)+' L 117,'+py(N+22)+' L 117,'+py(N+19),
      line:{color:'#111',width:1.2}, layer:'above'});
    shapes.push({type:'line', xref:'x'+axN, yref:'paper', x0:113, x1:117.5, y0:py(N+23), y1:py(N+33), line:{color:'#111',width:1.2}, layer:'above'});
  } else {
    shapes.push({type:'line', xref:'x'+axN, yref:'paper', x0:117, x1:117, y0:py(N-17.5), y1:py(N+17.5), line:{color:'#333',width:1}, layer:'above'});
    shapes.push({type:'line', xref:'x'+axN, yref:'paper', x0:113.3, x1:121.5, y0:py(N+16), y1:py(N+37), line:{color:'#111',width:1.2}, layer:'above'});
  }
  const top=N+32;
  annotations.push({xref:'paper',yref:'paper',x:px(956),y:py(top),text:'Destruction<br>motif',showarrow:false,xanchor:'left',yanchor:'top',align:'left',font:{size:16,color:'#111'}});
  annotations.push({xref:'paper',yref:'paper',x:px(1159),y:py(top),text:'Nuclear<br>export signal',showarrow:false,xanchor:'left',yanchor:'top',align:'left',font:{size:16,color:'#111'}});
  annotations.push({xref:'paper',yref:'paper',x:px(r<2?1308:1319),y:py(top),text:'Nuclear<br>import signal',showarrow:false,xanchor:'left',yanchor:'top',align:'left',font:{size:16,color:'#111'}});
}

// ---- Panel labels ----
annotations.push({xref:'paper',yref:'paper',x:px(2),y:py(1),text:'<b>a</b>',showarrow:false,xanchor:'left',yanchor:'top',font:{size:23,color:'#000'}});
annotations.push({xref:'paper',yref:'paper',x:px(2),y:py(1081),text:'<b>b</b>',showarrow:false,xanchor:'left',yanchor:'middle',font:{size:24,color:'#000'}});

// ---- Panel b ----
const ABE_FILL='#c4c5e3', CBE_FILL='#8b8ac4', OUTLINE='#5e5e5e';
const DOT_RED='#c8161e', DOT_BLUE='#1f3b94', KO_BLUE='#2b43b3', KO_RED='#e0222c';
const bPanels=[
  {n:13,xd:[92,484],yd:[1128,1372],yr:[-4.88,3.74],yt:[-4,-3,-2,-1,0,1,2,3],fmt:'',genes:genesPos,title:'Discordant guides - PD-1 screen (postive regulators)',tx:308,ty:1113,
   aY:b1AbeY,aW:b1AbeW,cY:b1CbeY,cW:b1CbeW,aD:b1AbeDots,cD:b1CbeDots,aK:b1AbeKO,cK:b1CbeKO,dot:DOT_RED,ko:KO_BLUE},
  {n:14,xd:[582,971],yd:[1130,1371],yr:[-4.4,1.66],yt:[-4,-3,-2,-1,0,1],fmt:'',genes:genesPos,title:'Discordant guides - CD25 screen (postive regulators)',tx:805,ty:1113,
   aY:b2AbeY,aW:b2AbeW,cY:b2CbeY,cW:b2CbeW,aD:b2AbeDots,cD:b2CbeDots,aK:b2AbeKO,cK:b2CbeKO,dot:DOT_RED,ko:KO_BLUE},
  {n:15,xd:[1063,1453],yd:[1130,1372],yr:[-3.42,2.2],yt:[-3,-2,-1,0,1,2],fmt:'',genes:genesPos,title:'Discordant guides - IFNγ screen (postive regulators)',tx:1276,ty:1113,
   aY:b3AbeY,aW:b3AbeW,cY:b3CbeY,cW:b3CbeW,aD:b3AbeDots,cD:b3CbeDots,aK:b3AbeKO,cK:b3CbeKO,dot:DOT_RED,ko:KO_BLUE},
  {n:16,xd:[92,471],yd:[1438,1672],yr:[-1.85,2.28],yt:[-1.5,-1,-0.5,0,0.5,1,1.5,2],fmt:'.1f',genes:genesNeg,title:'Discordant guides - PD-1 screen (negative regulators)',tx:314,ty:1428,
   aY:b4AbeY,aW:b4AbeW,cY:b4CbeY,cW:b4CbeW,aD:b4AbeDots,cD:b4CbeDots,aK:b4AbeKO,cK:b4CbeKO,dot:DOT_BLUE,ko:KO_RED},
  {n:17,xd:[585,968],yd:[1438,1672],yr:[-1.31,1.35],yt:[-1,-0.5,0,0.5,1],fmt:'.1f',genes:genesNeg,title:'Discordant guides - CD25 screen (negative regulators)',tx:808,ty:1427,
   aY:b5AbeY,aW:b5AbeW,cY:b5CbeY,cW:b5CbeW,aD:b5AbeDots,cD:b5CbeDots,aK:b5AbeKO,cK:b5CbeKO,dot:DOT_BLUE,ko:KO_RED},
  {n:18,xd:[1063,1447],yd:[1437,1672],yr:[-0.95,1.82],yt:[-0.5,0,0.5,1,1.5],fmt:'.1f',genes:genesNeg,title:'Discordant guides - IFNγ screen (negative regulators)',tx:1282,ty:1428,
   aY:b6AbeY,aW:b6AbeW,cY:b6CbeY,cW:b6CbeW,aD:b6AbeDots,cD:b6CbeDots,aK:b6AbeKO,cK:b6CbeKO,dot:DOT_BLUE,ko:KO_RED}
];
const OFF=0.2, HW=0.195;
function violin(n, c, ys, ws, fill){
  const xs=[], yy=[];
  for(let i=0;i<ys.length;i++){xs.push(c+ws[i]*HW); yy.push(ys[i]);}
  for(let i=ys.length-2;i>=0;i--){xs.push(c-ws[i]*HW); yy.push(ys[i]);}
  traces.push({type:'scatter', mode:'lines', xaxis:'x'+n, yaxis:'y'+n, x:xs, y:yy, fill:'toself', fillcolor:fill,
    line:{color:OUTLINE, width:1.4, shape:'spline', smoothing:0.8}, hoverinfo:'skip', showlegend:false});
}
bPanels.forEach(p=>{
  const n=p.n;
  layout['xaxis'+n]={domain:[px(p.xd[0]),px(p.xd[1])], anchor:'y'+n, range:[-0.5,3.5], tickmode:'array', tickvals:[0,1,2,3], ticktext:p.genes,
    showline:true, linecolor:'#555', linewidth:1.5, ticks:'outside', ticklen:6, tickwidth:1.3, tickcolor:'#555', ticklabelstandoff:-4,
    showgrid:false, zeroline:false, tickfont:{size:16,color:'#111'}, fixedrange:true};
  layout['yaxis'+n]={domain:[py(p.yd[1]),py(p.yd[0])], anchor:'x'+n, range:p.yr, tickmode:'array', tickvals:p.yt, tickformat:p.fmt,
    showline:true, linecolor:'#555', linewidth:1.5, ticks:'outside', ticklen:5, tickwidth:1.3, tickcolor:'#555',
    showgrid:false, zeroline:false, tickfont:{size:16,color:'#111'}, fixedrange:true};
  for(let g=0;g<4;g++){
    violin(n, g-OFF, p.aY[g], p.aW[g], ABE_FILL);
    violin(n, g+OFF, p.cY[g], p.cW[g], CBE_FILL);
  }
  shapes.push({type:'line', xref:'x'+n+' domain', yref:'y'+n, x0:0, x1:1, y0:0, y1:0, line:{color:'#8a8a8a', width:2, dash:'dash'}, layer:'above'});
  const kx=[], ky=[];
  for(let g=0;g<4;g++){
    kx.push(g-OFF-HW, g-OFF+HW, null, g+OFF-HW, g+OFF+HW, null);
    ky.push(p.aK[g], p.aK[g], null, p.cK[g], p.cK[g], null);
  }
  traces.push({type:'scatter', mode:'lines', xaxis:'x'+n, yaxis:'y'+n, x:kx, y:ky, line:{color:p.ko, width:2, dash:'dot'}, connectgaps:false, hoverinfo:'skip', showlegend:false});
  const dx=[], dy=[];
  for(let g=0;g<4;g++){
    p.aD[g].forEach(v=>{dx.push(g-OFF); dy.push(v);});
    p.cD[g].forEach(v=>{dx.push(g+OFF); dy.push(v);});
  }
  traces.push({type:'scatter', mode:'markers', xaxis:'x'+n, yaxis:'y'+n, x:dx, y:dy, marker:{color:p.dot, size:7, line:{width:0}}, hoverinfo:'skip', showlegend:false, cliponaxis:false});
  annotations.push({xref:'paper',yref:'paper',x:px(p.tx),y:py(p.ty),text:p.title,showarrow:false,xanchor:'center',yanchor:'middle',font:{size:16.5,color:'#111'}});
});

// ---- Legends ----
function legend(rows, koCol, dotCol){
  const sx0=1523, sx1=1548, tx=1555;
  shapes.push({type:'line', xref:'paper', yref:'paper', x0:px(sx0), x1:px(sx1), y0:py(rows[0]), y1:py(rows[0]), line:{color:koCol,width:2,dash:'dot'}});
  shapes.push({type:'circle', xref:'paper', yref:'paper', x0:px(1531), x1:px(1539), y0:py(rows[1]+4.5), y1:py(rows[1]-4.5), fillcolor:dotCol, line:{width:0}});
  shapes.push({type:'rect', xref:'paper', yref:'paper', x0:px(1522), x1:px(1548), y0:py(rows[2]+5.5), y1:py(rows[2]-5.5), fillcolor:ABE_FILL, line:{color:'#d8d8ea',width:1}});
  shapes.push({type:'rect', xref:'paper', yref:'paper', x0:px(1522), x1:px(1548), y0:py(rows[3]+5.5), y1:py(rows[3]-5.5), fillcolor:CBE_FILL, line:{color:'#a9a8d6',width:1}});
  const labels=['Knockout average','Differential guides','ABE','CBE'];
  labels.forEach((t,i)=>annotations.push({xref:'paper',yref:'paper',x:px(tx),y:py(rows[i]),text:t,showarrow:false,xanchor:'left',yanchor:'middle',font:{size:17,color:'#111'}}));
}
legend([1119,1141,1162,1183], KO_BLUE, DOT_RED);
legend([1432,1454,1475,1496], KO_RED, DOT_BLUE);

Plotly.newPlot('chart', traces, layout, {staticPlot:true, displayModeBar:false});
</script>
</body>
</html>
